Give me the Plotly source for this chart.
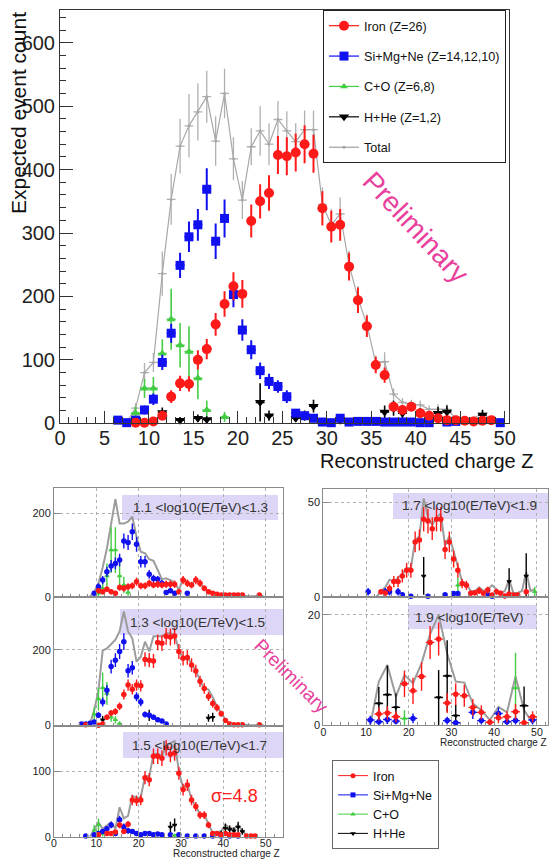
import plotly.graph_objects as go

# ================= DATA =================
# ---- main panel: all energies ----
iron_x = [8.5, 9.5, 10.5, 11.5, 12.5, 13.5, 14.5, 15.5, 16.5, 17.5, 18.5, 19.5, 20.5, 21.5, 22.5, 23.5, 24.5, 25.5,
          26.5, 27.5, 28.5, 29.5, 30.5, 31.5, 32.5, 33.5, 34.5, 35.5, 36.5, 37.5, 38.5, 39.5, 40.5, 41.5, 42.5, 43.5,
          44.5, 45.5, 46.5, 47.5, 48.5]
iron_y = [1, 1, 3, 12, 42, 63, 62, 100, 117, 156, 188, 216, 204, 319, 350, 363, 423, 421, 427, 440, 425, 339, 310,
          313, 247, 194, 153, 92, 76, 26, 21, 26, 16, 12, 8, 5, 5, 4, 3, 4, 5]
iron_e = [2, 2, 3, 6, 10, 12, 12, 15, 16, 18, 20, 22, 22, 26, 27, 28, 30, 30, 30, 30, 30, 27, 25, 25, 22, 20, 17, 13,
          12, 7, 6, 7, 5, 5, 4, 3, 3, 3, 2, 3, 3]

si_x = [6.5, 7.5, 8.5, 9.5, 10.5, 11.5, 12.5, 13.5, 14.5, 15.5, 16.5, 17.5, 18.5, 19.5, 20.5, 21.5, 22.5, 23.5, 24.5,
        25.5, 26.5, 27.5, 28.5, 29.5, 30.5, 31.5, 32.5, 33.5, 34.5, 35.5, 36.5, 37.5, 38.5, 39.5, 40.5, 41.5, 43.5,
        44.5, 49.5]
si_y = [5, 1, 5, 21, 38, 96, 142, 249, 294, 313, 369, 287, 323, 203, 147, 116, 83, 66, 58, 42, 16, 12, 8, 2, 1, 8, 2,
        3, 3, 3, 2, 2, 2, 2, 1, 1, 2, 3, 1]
si_e = [3, 2, 3, 7, 9, 12, 15, 20, 24, 25, 33, 28, 30, 20, 17, 15, 13, 12, 10, 10, 6, 5, 5, 3, 2, 5, 2, 2, 2, 2, 2, 2,
        2, 2, 2, 2, 2, 2, 2]

co_x = [8.5, 9.5, 10.5, 11.5, 12.5, 13.5, 14.5, 15.5, 16.5, 18.5, 28.5, 29.5, 32.5, 36.5, 39.5, 45.5, 49.5]
co_y = [16, 55, 55, 110, 164, 123, 113, 71, 21, 10, 5, 1, 1, 2, 3, 3, 2]
co_e = [10, 15, 18, 22, 48, 35, 40, 33, 15, 8, 5, 2, 2, 3, 3, 3, 3]

hhe_x = [11.5, 13.5, 15.5, 16.5, 22.5, 23.5, 26.5, 27.5, 28.5, 31.5, 36.5, 37.5, 38.5, 40.5, 41.5, 42.5, 43.5, 46.5,
         47.5]
hhe_y = [17, 5, 8, 6, 33, 12, 8, 12, 27, 5, 18, 24, 16, 16, 10, 16, 18, 5, 13]
hhe_e = [8, 5, 6, 5, 30, 8, 6, 8, 10, 5, 10, 12, 8, 8, 7, 10, 10, 5, 8]

tot_x = [6.5, 7.5, 8.5, 9.5, 10.5, 11.5, 12.5, 13.5, 14.5, 15.5, 16.5, 17.5, 18.5, 19.5, 20.5, 21.5, 22.5, 23.5, 24.5,
         25.5, 26.5, 27.5, 28.5, 29.5, 30.5, 31.5, 32.5, 33.5, 34.5, 35.5, 36.5, 37.5, 38.5, 39.5, 40.5, 41.5, 42.5,
         43.5, 44.5, 45.5, 46.5, 47.5, 48.5, 49.5]
tot_y = [5, 2, 24, 80, 96, 236, 353, 437, 469, 491, 515, 445, 520, 417, 352, 436, 461, 440, 479, 461, 444, 463, 463,
         345, 313, 330, 250, 197, 156, 95, 97, 46, 33, 30, 29, 22, 22, 22, 8, 7, 8, 16, 5, 3]
tot_e = [3, 2, 8, 15, 15, 35, 40, 43, 50, 45, 41, 39, 39, 34, 30, 29, 39, 33, 29, 31, 29, 30, 30, 27, 25, 26, 22, 19,
         16, 12, 15, 9, 7, 7, 7, 6, 8, 8, 4, 3, 4, 6, 3, 2]

# ---- panel 1: 1.1 < log10(E/TeV) < 1.3 ----
p1_fe_x = [10.5, 11.5, 12.5, 13.5, 14.5, 15.5, 16.5, 17.5, 18.5, 19.5, 20.5, 21.5, 22.5, 23.5, 24.5, 25.5, 26.5, 27.5,
           28.5, 29.5, 30.5, 31.5, 32.5, 33.5, 34.5, 35.5, 36.5, 37.5, 38.5, 39.5, 40.5, 41.5, 42.5, 43.5, 44.5, 48.5]
p1_fe_y = [14, 12, 18, 12, 8, 22, 20, 24, 26, 36, 26, 26, 32, 28, 30, 28, 30, 30, 30, 12, 40, 32, 28, 40, 32, 20, 12,
           8, 6, 4, 4, 4, 4, 4, 4, 4]
p1_fe_e = [6, 6, 7, 6, 5, 8, 8, 8, 8, 10, 8, 8, 9, 8, 9, 8, 9, 9, 9, 6, 10, 9, 8, 10, 9, 7, 6, 5, 4, 3, 3, 3, 3, 3, 3, 3]
p1_si_x = [9.5, 10.5, 11.5, 12.5, 13.5, 14.5, 15.5, 16.5, 17.5, 18.5, 19.5, 20.5, 21.5, 22.5, 23.5, 24.5, 25.5, 26.5,
           27.5, 28.5, 31.5]
p1_si_y = [8, 24, 40, 60, 74, 80, 88, 134, 130, 156, 126, 84, 84, 54, 44, 42, 32, 10, 14, 8, 8]
p1_si_e = [4, 8, 10, 12, 14, 14, 15, 18, 18, 20, 18, 14, 14, 10, 9, 8, 8, 5, 5, 4, 4]
p1_co_x = [10.5, 11.5, 12.5, 13.5, 14.5, 15.5, 16.5, 17.5]
p1_co_y = [8, 20, 50, 112, 112, 50, 28, 10]
p1_co_e = [8, 15, 30, 55, 55, 30, 20, 8]
p1_tot_x = [8.5, 9.5, 10.5, 11.5, 12.5, 13.5, 14.5, 15.5, 16.5, 17.5, 18.5, 19.5, 20.5, 21.5, 22.5, 23.5, 24.5, 25.5,
            26.5, 27.5, 28.5, 29.5, 30.5, 31.5, 32.5, 33.5, 34.5, 35.5, 36.5, 37.5, 38.5, 39.5, 40.5, 41.5, 42.5, 43.5,
            44.5, 45.5, 46.5, 47.5, 48.5, 49.5]
p1_tot_y = [0, 12, 32, 70, 116, 176, 234, 176, 176, 180, 192, 144, 108, 104, 90, 86, 62, 42, 44, 40, 34, 16, 44, 34,
            28, 42, 32, 20, 12, 8, 6, 4, 4, 4, 4, 4, 4, 1, 1, 1, 4, 1]

# ---- panel 2: 1.3 < log10(E/TeV) < 1.5 ----
p2_fe_x = [7.5, 10.5, 11.5, 12.5, 13.5, 14.5, 15.5, 16.5, 17.5, 18.5, 19.5, 20.5, 21.5, 22.5, 23.5, 24.5, 25.5, 26.5,
           27.5, 28.5, 29.5, 30.5, 31.5, 32.5, 33.5, 34.5, 35.5, 36.5, 37.5, 38.5, 39.5, 40.5, 41.5, 42.5, 43.5, 44.5,
           48.5]
p2_fe_y = [2, 0.5, 4, 22, 33, 37, 51, 82, 107, 96, 107, 105, 175, 173, 171, 220, 218, 236, 234, 237, 196, 178, 180,
           160, 144, 117, 98, 77, 58, 47, 31, 13, 4, 2, 2, 2, 2]
p2_fe_e = [2, 1, 3, 7, 8, 9, 10, 13, 15, 14, 15, 15, 19, 19, 19, 21, 21, 22, 22, 22, 20, 19, 19, 18, 17, 15, 14, 12,
           11, 10, 8, 5, 3, 2, 2, 2, 2]
p2_si_x = [6.5, 7.5, 8.5, 9.5, 10.5, 11.5, 12.5, 13.5, 14.5, 15.5, 16.5, 17.5, 18.5, 19.5, 20.5, 21.5, 22.5, 23.5,
           24.5, 25.5, 26.5]
p2_si_y = [4, 4, 6, 9, 27, 62, 93, 156, 173, 196, 222, 145, 153, 76, 62, 29, 27, 22, 15, 12, 4]
p2_si_e = [3, 3, 3, 4, 8, 12, 14, 18, 18, 20, 22, 18, 18, 12, 11, 8, 8, 7, 6, 5, 3]
p2_co_x = [9.5, 10.5, 11.5, 12.5, 13.5, 14.5, 15.5]
p2_co_y = [30, 70, 100, 85, 22, 15, 5]
p2_co_e = [18, 30, 40, 30, 12, 10, 5]
p2_hhe_x = [11.5, 22.5, 36.5, 37.5]
p2_hhe_y = [15, 27, 20, 22]
p2_hhe_e = [10, 15, 10, 12]
p2_tot_x = [7.5, 8.5, 9.5, 10.5, 11.5, 12.5, 13.5, 14.5, 15.5, 16.5, 17.5, 18.5, 19.5, 20.5, 21.5, 22.5, 23.5, 24.5,
            25.5, 26.5, 27.5, 28.5, 29.5, 30.5, 31.5, 32.5, 33.5, 34.5, 35.5, 36.5, 37.5, 38.5, 39.5, 40.5, 41.5, 42.5,
            43.5, 44.5, 45.5, 46.5, 47.5, 48.5, 49.5]
p2_tot_y = [0, 5, 40, 93, 198, 204, 215, 227, 249, 302, 249, 231, 169, 182, 222, 196, 236, 236, 236, 244, 244, 240,
            200, 178, 182, 162, 146, 118, 98, 95, 75, 50, 34, 16, 4, 2, 2, 2, 0.5, 0.5, 0.5, 2, 0.5]

# ---- panel 3: 1.5 < log10(E/TeV) < 1.7 ----
p3_fe_x = [10.5, 12.5, 13.5, 14.5, 15.5, 16.5, 17.5, 18.5, 19.5, 20.5, 21.5, 22.5, 23.5, 24.5, 25.5, 26.5, 27.5, 28.5,
           29.5, 30.5, 31.5, 32.5, 33.5, 34.5, 35.5, 36.5, 37.5, 38.5, 39.5, 40.5, 41.5, 42.5, 43.5, 45.5, 46.5, 47.5]
p3_fe_y = [3, 5, 5, 7, 18, 8, 19, 56, 55, 56, 90, 87, 123, 123, 120, 136, 126, 128, 97, 72, 79, 56, 46, 33, 33, 18, 5,
           5, 3, 5, 3, 3, 3, 1, 1, 1]
p3_fe_e = [2, 3, 3, 3, 5, 3, 5, 8, 8, 8, 10, 10, 12, 12, 12, 12, 12, 12, 10, 9, 9, 8, 7, 6, 6, 5, 3, 3, 2, 3, 2, 2, 2,
           1, 1, 1]
p3_si_x = [7.5, 9.5, 10.5, 11.5, 12.5, 13.5, 14.5, 15.5, 16.5, 17.5, 18.5, 19.5, 20.5, 21.5, 22.5, 23.5, 24.5, 25.5,
           27.5, 29.5, 31.5, 33.5, 35.5, 37.5, 39.5, 41.5, 43.5]
p3_si_y = [1, 3, 5, 8, 12, 18, 5, 26, 15, 9, 8, 5, 3, 5, 5, 3, 4, 3, 3, 3, 1, 1, 1, 1, 1, 1, 1]
p3_si_e = [1, 2, 3, 3, 4, 5, 3, 6, 5, 4, 3, 3, 2, 3, 3, 2, 2, 2, 2, 2, 1, 1, 1, 1, 1, 1, 1]
p3_co_x = [9.5, 10.5, 11.5, 28.5]
p3_co_y = [10, 18, 5, 2]
p3_co_e = [8, 10, 5, 2]
p3_hhe_x = [27.5, 28.5, 39.5, 40.5, 41.5, 42.5, 43.5, 44.5]
p3_hhe_y = [15, 18, 5, 13, 11, 9, 15, 8]
p3_hhe_e = [8, 10, 4, 7, 6, 5, 8, 5]
p3_tot_x = [8.5, 9.5, 10.5, 11.5, 12.5, 13.5, 14.5, 15.5, 16.5, 17.5, 18.5, 19.5, 20.5, 21.5, 22.5, 23.5, 24.5, 25.5,
            26.5, 27.5, 28.5, 29.5, 30.5, 31.5, 32.5, 33.5, 34.5, 35.5, 36.5, 37.5, 38.5, 39.5, 40.5, 41.5, 42.5, 43.5,
            44.5, 45.5, 46.5, 47.5]
p3_tot_y = [0, 10, 22, 12, 17, 22, 12, 45, 28, 32, 62, 60, 60, 93, 92, 126, 127, 123, 138, 143, 146, 100, 75, 80, 57,
            47, 34, 34, 19, 6, 6, 9, 18, 14, 12, 18, 9, 2, 1, 1]

# ---- panel 4: 1.7 < log10(E/TeV) < 1.9 ----
p4_fe_x = [13.5, 14.5, 15.5, 16.5, 17.5, 18.5, 19.5, 20.5, 21.5, 22.5, 23.5, 24.5, 25.5, 26.5, 27.5, 28.5, 29.5, 30.5,
           31.5, 32.5, 33.5, 34.5, 35.5, 36.5, 37.5, 38.5, 39.5, 40.5, 41.5, 42.5, 43.5, 44.5, 45.5, 47.5]
p4_fe_y = [2.6, 2, 4.4, 8, 8, 11, 14, 14, 29, 30, 41, 40, 36, 41, 41, 25, 29, 20, 14, 7, 6, 1.8, 2.1, 3.2, 1.8, 3.5,
           0.9, 2.6, 1.8, 0.4, 1.4, 0.9, 0.9, 2.6]
p4_fe_e = [1.5, 1.4, 2, 3, 3, 3.5, 4, 4, 5.5, 5.5, 6.5, 6.5, 6, 6.5, 6.5, 5, 5.5, 4.5, 4, 2.5, 2.5, 1.3, 1.5, 1.8, 1.3,
           1.8, 1, 1.6, 1.3, 0.6, 1.2, 1, 1, 1.6]
p4_si_x = [10.5, 14.5, 15.5, 17.5, 18.5, 20.5, 24.5, 28.5, 30.5, 31.5, 38.5, 39.5]
p4_si_y = [2.6, 2.6, 2.6, 2.6, 1, 0.3, 0.3, 1, 1.7, 1.7, 1, 0.3]
p4_si_e = [2, 2, 2, 2, 1, 0.5, 0.5, 1, 1.3, 1.3, 1, 0.5]
p4_co_x = [31.5, 49.5]
p4_co_y = [6, 2.6]
p4_co_e = [4, 2.6]
p4_hhe_x = [23.5, 43.5, 47.5]
p4_hhe_y = [11, 8, 11]
p4_hhe_e = [10, 7, 12]
p4_tot_x = [12.5, 13.5, 14.5, 15.5, 16.5, 17.5, 18.5, 19.5, 20.5, 21.5, 22.5, 23.5, 24.5, 25.5, 26.5, 27.5, 28.5, 29.5,
            30.5, 31.5, 32.5, 33.5, 34.5, 35.5, 36.5, 37.5, 38.5, 39.5, 40.5, 41.5, 42.5, 43.5, 44.5, 45.5, 46.5, 47.5,
            48.5, 49.5]
p4_tot_y = [0, 3, 5, 9, 8, 10, 12, 15, 15, 30, 32, 52, 42, 38, 42, 44, 27, 32, 24, 16, 8, 7, 3, 3, 5, 3, 4, 6, 4, 2,
            3, 9, 2, 2, 3, 13, 3, 4]

# ---- panel 5: 1.9 < log10(E/TeV) (2-unit bins) ----
p5_fe_x = [13, 15, 17, 19, 21, 23, 25, 27, 29, 31, 33, 35, 37, 39, 41, 43, 45, 47, 49]
p5_fe_y = [2, 2.2, 1.5, 7.5, 6.2, 8.8, 15, 15.6, 4, 5.6, 5.3, 3.2, 2.3, 0.5, 1.3, 1.5, 2.4, 0.4, 1.5]
p5_fe_e = [1.2, 1.2, 1, 2.4, 2.4, 2.6, 3, 3, 1.8, 2, 2, 1.5, 1.3, 0.6, 1, 1, 1.4, 0.5, 1]
p5_si_x = [11, 13, 15, 17, 21, 29, 31, 35, 37, 41, 43, 45, 49]
p5_si_y = [0.9, 0.6, 1.0, 0.7, 1.2, 0.8, 0.4, 2.3, 0.8, 2.1, 0.6, 0.8, 0.9]
p5_si_e = [0.8, 0.6, 0.8, 0.6, 0.9, 0.7, 0.4, 1.2, 0.7, 1.1, 0.6, 0.7, 0.8]
p5_co_x = [19, 45]
p5_co_y = [1.2, 6.7]
p5_co_e = [1.5, 6.4]
p5_hhe_x = [13, 15, 17, 27, 29, 31, 47]
p5_hhe_y = [3.9, 5.5, 3.2, 5.0, 8.9, 1.7, 3.5]
p5_hhe_e = [3, 5.3, 2.5, 5, 6.5, 2, 3.5]
p5_tot_x = [11, 13, 15, 17, 19, 21, 23, 25, 27, 29, 31, 33, 35, 37, 39, 41, 43, 45, 47, 49]
p5_tot_y = [0, 7.9, 10.9, 5.2, 9.1, 7.6, 11.2, 16.5, 20, 13, 7.9, 7.7, 3.9, 2.7, 0.9, 3.3, 2.3, 8.8, 2.7, 0.3]

main_names = ["Iron (Z=26)", "Si+Mg+Ne (Z=14,12,10)", "C+O (Z=6,8)", "H+He (Z=1,2)", "Total"]
small_names = ["Iron", "Si+Mg+Ne", "C+O", "H+He"]
panel_labels = ["1.1 &lt;log10(E/TeV)&lt;1.3", "1.3 &lt;log10(E/TeV)&lt;1.5", "1.5 &lt;log10(E/TeV)&lt;1.7",
                "1.7 &lt;log10(E/TeV)&lt;1.9", "1.9 &lt;log10(E/TeV)"]

# ================= STYLE =================
W, H = 550, 859
RED, BLUE, GREEN, BLACK = '#ff1a1a', '#1010f0', '#44cc44', '#000000'
SANS = "Liberation Sans, Arial, Helvetica, sans-serif"
PINK = '#e8409c'


def px(x):
    return x / W


def py(y):
    return 1 - y / H


fig = go.Figure()


def points(x, y, err, xa, ya, color, symbol, size, halfw, th=1.6):
    fig.add_trace(go.Scatter(
        x=x, y=y, mode='markers', xaxis=xa, yaxis=ya, showlegend=False, cliponaxis=False,
        marker=dict(color=color, symbol=symbol, size=size, line=dict(width=0)),
        error_y=dict(type='data', array=err, color=color, thickness=th, width=0),
        error_x=dict(type='constant', value=halfw, color=color, thickness=th, width=0),
        hoverinfo='skip'))


def line(x, y, xa, ya):
    fig.add_trace(go.Scatter(x=x, y=y, mode='lines', xaxis=xa, yaxis=ya, showlegend=False,
                             line=dict(color='#9c9c9c', width=2), hoverinfo='skip'))


# ---- main panel traces ----
fig.add_trace(go.Scatter(
    x=tot_x, y=tot_y, mode='lines+markers', xaxis='x', yaxis='y', showlegend=False, cliponaxis=False,
    line=dict(color='#a8a8a8', width=1.2), marker=dict(color='#a8a8a8', size=3),
    error_y=dict(type='data', array=tot_e, color='#b0b0b0', thickness=1.3, width=0),
    error_x=dict(type='constant', value=0.5, color='#b0b0b0', thickness=1.3, width=0), hoverinfo='skip'))
points(co_x, co_y, co_e, 'x', 'y', GREEN, 'triangle-up', 8, 0.5)
points(hhe_x, hhe_y, hhe_e, 'x', 'y', BLACK, 'triangle-down', 9, 0.5)
points(si_x, si_y, si_e, 'x', 'y', BLUE, 'square', 9, 0.5, th=2)
points(iron_x, iron_y, iron_e, 'x', 'y', RED, 'circle', 10, 0.5, th=2)

# main legend (legend-only entries)
main_styles = [(RED, 'circle', 10), (BLUE, 'square', 9), (GREEN, 'triangle-up', 7), (BLACK, 'triangle-down', 9),
               ('#a0a0a0', 'circle', 3)]
for i, (nm, (c, s, sz)) in enumerate(zip(main_names, main_styles)):
    fig.add_trace(go.Scatter(x=[None], y=[None], mode='lines+markers', name=nm, xaxis='x', yaxis='y',
                             legend='legend', legendgroup='g%d' % i,
                             line=dict(color=c, width=1.2), marker=dict(color=c, symbol=s, size=sz)))

# ---- small panels ----
panels = [
    ('x2', 'y2', p1_tot_x, p1_tot_y, [(p1_co_x, p1_co_y, p1_co_e), None, (p1_si_x, p1_si_y, p1_si_e),
                                      (p1_fe_x, p1_fe_y, p1_fe_e)], 0.5),
    ('x3', 'y3', p2_tot_x, p2_tot_y, [(p2_co_x, p2_co_y, p2_co_e), (p2_hhe_x, p2_hhe_y, p2_hhe_e),
                                      (p2_si_x, p2_si_y, p2_si_e), (p2_fe_x, p2_fe_y, p2_fe_e)], 0.5),
    ('x4', 'y4', p3_tot_x, p3_tot_y, [(p3_co_x, p3_co_y, p3_co_e), (p3_hhe_x, p3_hhe_y, p3_hhe_e),
                                      (p3_si_x, p3_si_y, p3_si_e), (p3_fe_x, p3_fe_y, p3_fe_e)], 0.5),
    ('x5', 'y5', p4_tot_x, p4_tot_y, [(p4_co_x, p4_co_y, p4_co_e), (p4_hhe_x, p4_hhe_y, p4_hhe_e),
                                      (p4_si_x, p4_si_y, p4_si_e), (p4_fe_x, p4_fe_y, p4_fe_e)], 0.5),
    ('x6', 'y6', p5_tot_x, p5_tot_y, [(p5_co_x, p5_co_y, p5_co_e), (p5_hhe_x, p5_hhe_y, p5_hhe_e),
                                      (p5_si_x, p5_si_y, p5_si_e), (p5_fe_x, p5_fe_y, p5_fe_e)], 1.0),
]
small_styles = [(GREEN, 'triangle-up', 5), (BLACK, 'triangle-down', 5), (BLUE, 'circle', 5.5), (RED, 'circle', 5.5)]
for xa, ya, tx, ty, series, hw in panels:
    line(tx, ty, xa, ya)
    for s, (c, sym, sz) in zip(series, small_styles):
        if s is None:
            continue
        points(s[0], s[1], s[2], xa, ya, c, sym, sz, hw, th=1.4)

# bottom legend entries
leg2_styles = [(RED, 'circle', 5), (BLUE, 'square', 5), (GREEN, 'triangle-up', 5), (BLACK, 'triangle-down', 5)]
for nm, (c, s, sz) in zip(small_names, leg2_styles):
    fig.add_trace(go.Scatter(x=[None], y=[None], mode='lines+markers', name=nm, xaxis='x2', yaxis='y2',
                             legend='legend2', line=dict(color=c, width=1), marker=dict(color=c, symbol=s, size=sz)))

# ================= AXES =================
AX = '#333333'
layout_axes = {}
layout_axes['xaxis'] = dict(domain=[px(60), px(509)], range=[0, 50.48], anchor='y', showline=True, linecolor=AX,
                            linewidth=1, mirror=True, ticks='inside', ticklen=12, tickcolor=AX, dtick=5, tick0=0,
                            minor=dict(ticks='inside', ticklen=6, dtick=1, tickcolor=AX), ticklabelstandoff=-3,
                            automargin=False,
                            showgrid=False, zeroline=False, tickfont=dict(family=SANS, size=20, color='#222'))
layout_axes['yaxis'] = dict(domain=[py(423.3), py(10)], range=[0, 651.6], anchor='x', showline=True, linecolor=AX,
                            linewidth=1, mirror=True, ticks='inside', ticklen=13, tickcolor=AX, dtick=100, tick0=0,
                            minor=dict(ticks='inside', ticklen=6, dtick=20, tickcolor=AX), automargin=False,
                            showgrid=False, zeroline=False, tickfont=dict(family=SANS, size=20, color='#222'))

# (x pixel bounds, y pixel bounds, x range, y range, y dtick, show x labels)
small_geo = [
    ((54, 283), (488, 596.7), 54.1, 261, 200, False),
    ((54, 283), (596.7, 725.5), 54.1, 341, 200, False),
    ((54, 283), (725.5, 836.7), 54.1, 170, 100, True),
    ((323.3, 548), (489, 596.7), 52.6, 57, 50, False),
    ((323.3, 548), (596.7, 725), 52.6, 23.3, 20, True),
]
GR = '#8a8a8a'
for i, (xb, yb, xr, yr, ydt, showx) in enumerate(small_geo):
    n = i + 2
    layout_axes['xaxis%d' % n] = dict(
        domain=[px(xb[0]), px(xb[1])], range=[0, xr], anchor='y%d' % n, showline=True, linecolor=GR, linewidth=1,
        mirror=True, ticks='inside', ticklen=5, tickcolor=GR, dtick=10, tick0=0, automargin=False,
        minor=dict(ticks='inside', ticklen=3, dtick=2, tickcolor=GR),
        showgrid=True, gridcolor='#b0b0b0', griddash='dot', gridwidth=1, zeroline=False,
        showticklabels=showx, ticklabelstandoff=-3, tickfont=dict(family=SANS, size=10.5, color='#222'))
    layout_axes['yaxis%d' % n] = dict(
        domain=[py(yb[1]), py(yb[0])], range=[0, yr], anchor='x%d' % n, showline=True, linecolor=GR, linewidth=1,
        mirror=True, ticks='inside', ticklen=6, tickcolor=GR, dtick=ydt, tick0=0, automargin=False,
        showgrid=True, gridcolor='#b0b0b0', griddash='dot', gridwidth=1, zeroline=False,
        tickfont=dict(family=SANS, size=11, color='#222'))

# ================= ANNOTATIONS / SHAPES =================
annotations = [
    dict(text="Expected event count", x=px(18), y=py(113), xref='paper', yref='paper', showarrow=False,
         textangle=-90, font=dict(family=SANS, size=21, color='#111'), xanchor='center', yanchor='middle'),
    dict(text="Reconstructed charge Z", x=px(535), y=py(461), xref='paper', yref='paper', showarrow=False,
         font=dict(family=SANS, size=20, color='#111'), xanchor='right', yanchor='middle'),
    dict(text="Preliminary", x=px(416), y=py(227), xref='paper', yref='paper', showarrow=False, textangle=47,
         font=dict(family=SANS, size=28, color=PINK), xanchor='center', yanchor='middle'),
    dict(text="Preliminary", x=px(292), y=py(676), xref='paper', yref='paper', showarrow=False, textangle=45,
         font=dict(family=SANS, size=19, color=PINK), xanchor='center', yanchor='middle'),
    dict(text="σ=4.8", x=px(234), y=py(796), xref='paper', yref='paper', showarrow=False,
         font=dict(family=SANS, size=18, color='#ff2020'), xanchor='center', yanchor='middle'),
    dict(text="Reconstructed charge Z", x=px(282), y=py(853.5), xref='paper', yref='paper', showarrow=False,
         font=dict(family=SANS, size=10, color='#222'), xanchor='right', yanchor='middle'),
    dict(text="Reconstructed charge Z", x=px(549), y=py(742), xref='paper', yref='paper', showarrow=False,
         font=dict(family=SANS, size=10, color='#222'), xanchor='right', yanchor='middle'),
]
# label boxes: (x0, x1, y0, y1, text center x, y)
boxes = [(122, 278, 495, 520, 200, 507.5), (120, 283, 609, 635, 197, 622), (123, 283, 732, 758, 199, 745),
         (393, 548, 493, 519, 469, 506), (408, 537, 605, 629, 469, 617)]
shapes = []
for b, lab in zip(boxes, panel_labels):
    shapes.append(dict(type='rect', xref='paper', yref='paper', x0=px(b[0]), x1=px(b[1]),
                       y0=py(b[3]), y1=py(b[2]), fillcolor='#ddd6f6', line=dict(width=0), layer='below'))
    annotations.append(dict(text=lab, x=px(b[4]), y=py(b[5]), xref='paper', yref='paper', showarrow=False,
                            font=dict(family=SANS, size=13.5, color='#333'), xanchor='center', yanchor='middle'))

fig.update_layout(
    width=W, height=H, margin=dict(l=0, r=0, t=0, b=0, autoexpand=False), paper_bgcolor='white',
    plot_bgcolor='rgba(0,0,0,0)',
    showlegend=True, annotations=annotations, shapes=shapes,
    legend=dict(x=px(323), y=py(10), xanchor='left', yanchor='top', bgcolor='white', bordercolor='#222',
                borderwidth=1, font=dict(family=SANS, size=12.6, color='#111'), tracegroupgap=11, itemwidth=30,
                traceorder='grouped'),
    legend2=dict(x=px(332), y=py(760), xanchor='left', yanchor='top', bgcolor='white', bordercolor='#666',
                 borderwidth=1, font=dict(family=SANS, size=12.5, color='#111'), itemwidth=30, tracegroupgap=0,
                 traceorder='normal'),
    **layout_axes)

fig.write_html("out.html", config={'displayModeBar': False},
               post_script="document.documentElement.style.margin='0';document.body.style.margin='0';"
                           "document.body.style.padding='0';document.body.style.overflow='hidden';")
